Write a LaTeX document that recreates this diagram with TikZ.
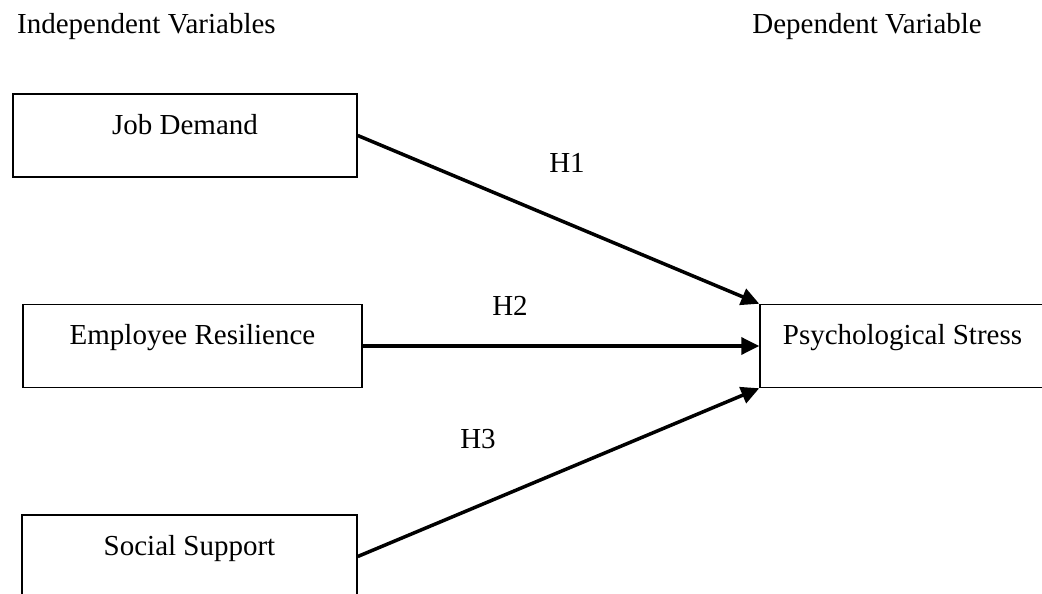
\documentclass[tikz,border=0pt]{standalone}
\usepackage{fontspec}
\setmainfont{Liberation Serif}
\usetikzlibrary{arrows.meta, positioning}

\begin{document}
\begin{tikzpicture}[x=1pt, y=-1pt, font=\fontsize{29}{35}\selectfont,
    var/.style={draw, line width=1.5pt, inner sep=0pt, text height=40pt, text depth=43pt},
    hyp/.style={anchor=base, inner sep=0pt},
    link/.style={line width=3.5pt, -{Triangle[length=18pt, width=17pt]}}]
    \useasboundingbox (0,0) rectangle (1042,594);
    % Headings
    \node[anchor=base west, inner sep=0pt] (indep) at (17,34) {Independent Variables};
    \node[anchor=base east, inner sep=0pt] (dep) at (982,34) {Dependent Variable};
    % Variables
    \node[var, minimum width=344pt] (jd) at (185,135.5) {Job Demand};
    \node[var, minimum width=339pt] (er) at (192.5,346) {Employee Resilience};
    \node[var, minimum width=335pt] (ss) at (189.5,556.5) {Social Support};
    \node[var, minimum width=285pt] (ps) at (902.5,346) {Psychological Stress};
    % Hypotheses
    \path[link]
    (jd.east) edge (ps.north west)
    (er.east) edge (ps.west)
    (ss.east) edge (ps.south west);
    \node[hyp] (h1) at (567,172) {H1};
    \node[hyp] (h2) at (510,315) {H2};
    \node[hyp] (h3) at (478,448) {H3};
\end{tikzpicture}
\end{document}
